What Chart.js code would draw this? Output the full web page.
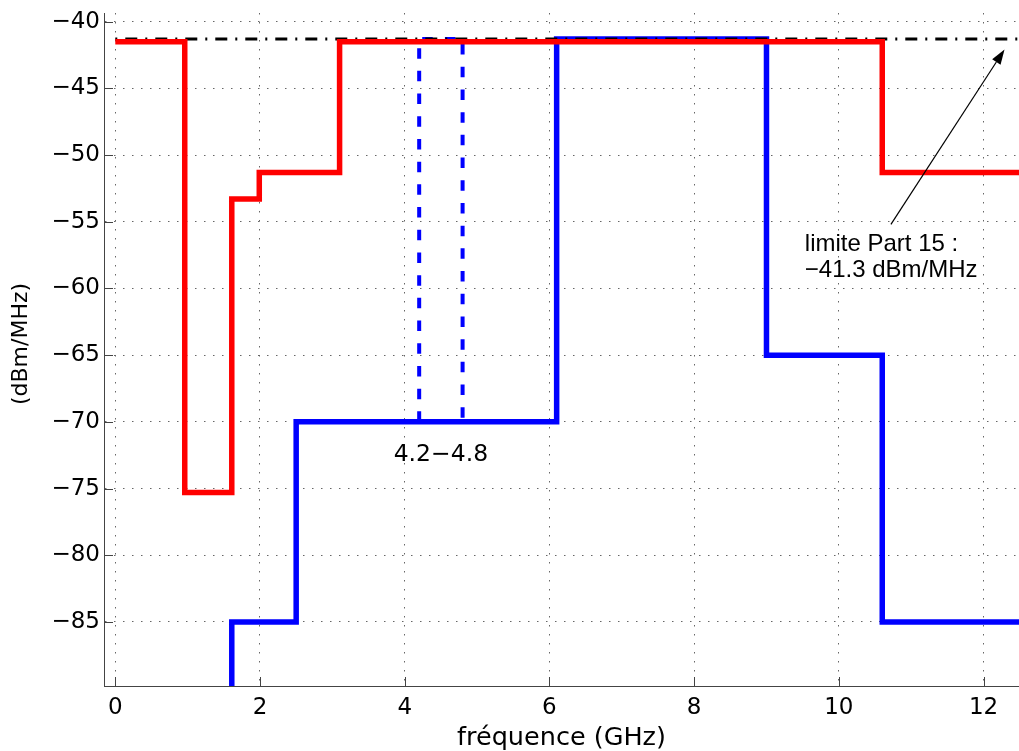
<!DOCTYPE html>
<html>
<head>
<meta charset="utf-8">
<script src="https://cdn.jsdelivr.net/npm/chart.js@4.4.1/dist/chart.umd.min.js"></script>
<style>
  html, body { margin:0; padding:0; background:#fff; }
  #c { display:block; }
</style>
</head>
<body>
<canvas id="c" width="1019" height="751"></canvas>
<script>
// === Data (GHz / dBm/MHz) ===
const xTicks = [0, 2, 4, 6, 8, 10, 12];
const yTicks = [-85, -80, -75, -70, -65, -60, -55, -50, -45, -40];

// red mask: each level holds from its x to the next x
const redX = [0, 0.96, 1.61, 1.99, 3.1, 10.6, 12.6];
const redY = [-41.5, -75.3, -53.3, -51.3, -41.5, -51.3, -51.3];

// blue mask
const blueX = [0, 1.61, 2.5, 6.1, 9.0, 10.6, 12.6];
const blueY = [-90, -85, -70, -41.3, -65, -85, -85];

// 4.2-4.8 GHz band (blue dashed)
const bandX = [4.2, 4.2, 4.8, 4.8];
const bandY = [-70, -41.3, -41.3, -70];

// Part 15 limit (black dash-dot)
const limitX = [0, 12.6];
const limitY = [-41.3, -41.3];

// annotations
const notes = [
  {text:'limite Part 15 :',        x:9.53, y:-57.2,  align:'left',   font:'24px "Liberation Sans"'},
  {text:'\u221241.3 dBm/MHz',      x:9.53, y:-59.12, align:'left',   font:'24px "Liberation Sans"'},
  {text:'4.2\u22124.8',            x:4.5,  y:-72.9,  align:'center', font:'23.5px "DejaVu Sans"'},
];
const arrowFrom = [10.72, -55.2];
const arrowTo   = [12.29, -42.08];

const pts = (xs, ys) => xs.map((x, i) => ({x, y: ys[i]}));
const fmt = v => v < 0 ? '\u2212' + Math.abs(v) : String(v);

// inward tick marks, arrow and text labels
const overlay = {
  id: 'overlay',
  afterDraw(chart){
    const {ctx, chartArea: a, scales: {x, y}} = chart;
    ctx.save();
    ctx.strokeStyle = '#444';
    ctx.lineWidth = 1;
    ctx.beginPath();
    xTicks.forEach(v => {
      const px = Math.round(x.getPixelForValue(v)) + 0.5;
      ctx.moveTo(px, a.bottom); ctx.lineTo(px, a.bottom - 9);
    });
    yTicks.forEach(v => {
      const py = Math.round(y.getPixelForValue(v)) + 0.5;
      ctx.moveTo(a.left, py); ctx.lineTo(a.left + 9, py);
    });
    ctx.stroke();

    // arrow
    const x0 = x.getPixelForValue(arrowFrom[0]), y0 = y.getPixelForValue(arrowFrom[1]);
    const x1 = x.getPixelForValue(arrowTo[0]),   y1 = y.getPixelForValue(arrowTo[1]);
    const ang = Math.atan2(y1 - y0, x1 - x0);
    const hl = 15, hw = 5;
    const bx = x1 - hl * Math.cos(ang), by = y1 - hl * Math.sin(ang);
    ctx.strokeStyle = '#000';
    ctx.lineWidth = 1.2;
    ctx.beginPath(); ctx.moveTo(x0, y0); ctx.lineTo(bx, by); ctx.stroke();
    ctx.fillStyle = '#000';
    ctx.beginPath();
    ctx.moveTo(x1, y1);
    ctx.lineTo(bx + hw * Math.sin(ang), by - hw * Math.cos(ang));
    ctx.lineTo(bx - hw * Math.sin(ang), by + hw * Math.cos(ang));
    ctx.closePath(); ctx.fill();

    // text
    ctx.textBaseline = 'alphabetic';
    notes.forEach(n => {
      ctx.font = n.font;
      ctx.textAlign = n.align;
      ctx.fillText(n.text, x.getPixelForValue(n.x), y.getPixelForValue(n.y));
    });
    ctx.restore();
  }
};

const tickFont = {family:'DejaVu Sans', size:23};

new Chart(document.getElementById('c'), {
  type: 'line',
  data: {
    datasets: [
      {data: pts(redX, redY), borderColor:'#ff0000', borderWidth:5.5, stepped:'before', clip:0},
      {data: pts(limitX, limitY), borderColor:'#000', borderWidth:3, borderDash:[12, 8, 2, 8], borderDashOffset:20, clip:0},
      {data: pts(bandX, bandY), borderColor:'#0000ff', borderWidth:4, borderDash:[10.5, 12.2], clip:0},
      {data: pts(blueX, blueY), borderColor:'#0000ff', borderWidth:5.5, stepped:'before', clip:0},
    ]
  },
  options: {
    responsive: false,
    animation: false,
    devicePixelRatio: 1,
    layout: {padding: {top:13, right:0, bottom:0, left:0}},
    elements: {point: {radius:0}, line: {tension:0, fill:false}},
    plugins: {legend: {display:false}, tooltip: {enabled:false}},
    scales: {
      x: {
        type: 'linear', min: -0.156, max: 12.49,
        afterBuildTicks: s => { s.ticks = xTicks.map(v => ({value: v})); },
        afterFit: s => { s.height = 65; s.paddingLeft = 0; s.paddingRight = 0; },
        grid: {color:'#666', drawTicks:false},
        border: {color:'#444', dash:[1.5, 7.5]},
        ticks: {padding:8, maxRotation:0, autoSkip:false, color:'#000', font:tickFont, callback: v => fmt(v)},
        title: {display:true, text:'fréquence (GHz)', color:'#000',
                font:{family:'DejaVu Sans', size:25.5, lineHeight:1}, padding:{top:0, bottom:0}}
      },
      y: {
        type: 'linear', min: -89.8, max: -39.35,
        afterBuildTicks: s => { s.ticks = yTicks.map(v => ({value: v})); },
        afterFit: s => { s.width = 104; s.paddingTop = 0; s.paddingBottom = 0; },
        grid: {color:'#666', drawTicks:false},
        border: {color:'#444', dash:[1.5, 7.5]},
        ticks: {padding:4, autoSkip:false, color:'#000', font:tickFont, callback: v => fmt(v)},
        title: {display:true, text:'\u2002(dBm/MHz)', color:'#000',
                font:{family:'DejaVu Sans', size:22}, padding:{top:8, bottom:0}}
      }
    }
  },
  plugins: [overlay]
});
</script>
</body>
</html>
